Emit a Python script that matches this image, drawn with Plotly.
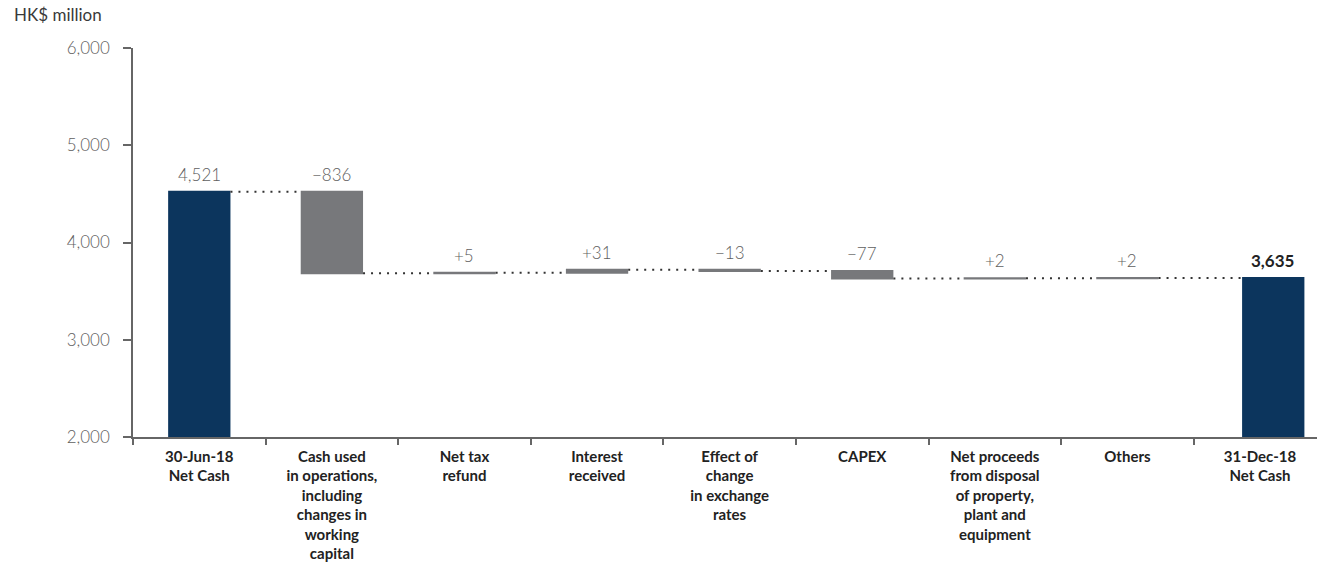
import plotly.graph_objects as go

categories = [
    "30-Jun-18<br>Net Cash",
    "Cash used<br>in operations,<br>including<br>changes in<br>working<br>capital",
    "Net tax<br>refund",
    "Interest<br>received",
    "Effect of<br>change<br>in exchange<br>rates",
    "CAPEX",
    "Net proceeds<br>from disposal<br>of property,<br>plant and<br>equipment",
    "Others",
    "31-Dec-18<br>Net Cash",
]
values = [4521, -836, 5, 31, -13, -77, 2, 2, 3635]
measures = ["absolute", "relative", "relative", "relative", "relative",
            "relative", "relative", "relative", "total"]
value_labels = ["4,521", "\u2212836", "+5", "+31", "\u221213", "\u221277", "+2", "+2", "<b>3,635</b>"]
y_ticks = [2000, 3000, 4000, 5000, 6000]

NAVY = "#0C355D"
GREY = "#77787B"
FONT = "Lato"

bar_w = 0.47
offsets = [-bar_w / 2] * 8 + [-bar_w / 2 + 0.1]

fig = go.Figure()
fig.add_trace(go.Waterfall(
    x=categories,
    y=values,
    measure=measures,
    width=bar_w,
    offset=offsets,
    increasing=dict(marker=dict(color=GREY, line=dict(width=0))),
    decreasing=dict(marker=dict(color=GREY, line=dict(width=0))),
    totals=dict(marker=dict(color=NAVY, line=dict(width=0))),
    connector=dict(mode="between", line=dict(color="#333333", width=2, dash="2px,6px")),
    showlegend=False,
    hoverinfo="skip",
))

# value labels above each bar (positions derived from the data)
running = 0
for i, (cat, v, m, lab) in enumerate(zip(categories, values, measures, value_labels)):
    if m == "absolute":
        top = v
        running = v
    elif m == "total":
        top = running
    else:
        top = max(running, running + v)
        running += v
    is_total = m == "total"
    fig.add_annotation(
        x=cat, y=top, text=lab, showarrow=False, yanchor="bottom", yshift=5,
        xshift=13 if is_total else 0,
        font=dict(family=FONT, size=17, color="#222222" if is_total else "#606060",
                  weight=400 if is_total else 300),
    )

fig.add_annotation(
    xref="paper", yref="paper", x=-0.102, y=1.055, xanchor="left", yanchor="bottom",
    text="HK$ million", showarrow=False,
    font=dict(family=FONT, size=17, color="#3a3a3a", weight=400),
)

fig.update_layout(
    width=1317, height=571,
    margin=dict(l=133, r=0, t=48, b=134),
    plot_bgcolor="white", paper_bgcolor="white",
    font=dict(family=FONT),
    bargap=0,
)
fig.update_xaxes(
    type="category",
    range=[-0.5, 8.43],
    showline=True, linecolor="#666666", linewidth=1.5,
    ticks="outside", tickson="boundaries", ticklen=6, tickcolor="#666666", tickwidth=1.5,
    ticklabelstandoff=5,
    tickfont=dict(family=FONT, size=15, color="#222222", weight="bold"),
    showgrid=False, zeroline=False, fixedrange=True,
)
fig.update_yaxes(
    range=[2000, 6000],
    tickvals=y_ticks,
    tickformat=",",
    showline=True, linecolor="#666666", linewidth=1.5,
    ticks="outside", ticklen=8, tickcolor="#666666", tickwidth=1.5,
    ticklabelstandoff=10,
    tickfont=dict(family=FONT, size=17, color="#606060", weight=300),
    showgrid=False, zeroline=False, fixedrange=True,
)

fig.write_html("out.html")
